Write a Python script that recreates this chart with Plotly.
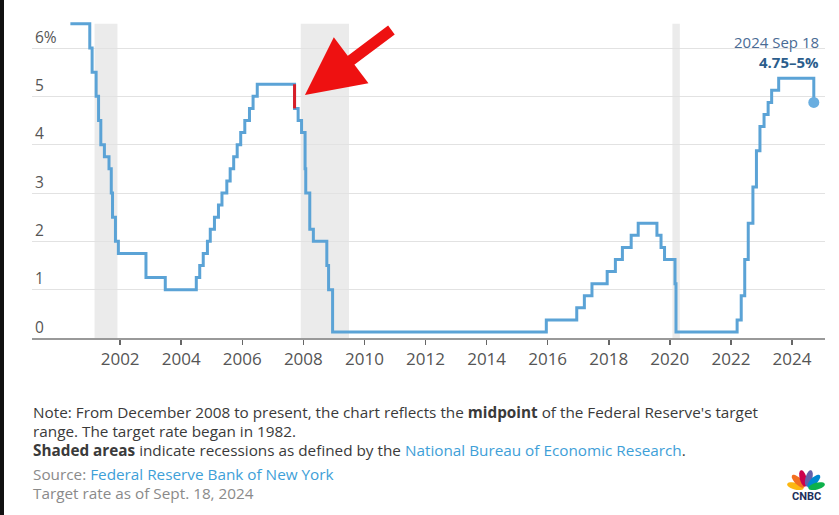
import math
import plotly.graph_objects as go

# ---- data ----
dates = ["2000-05-16", "2001-01-03", "2001-01-31", "2001-03-20", "2001-04-18", "2001-05-15",
         "2001-06-27", "2001-08-21", "2001-09-17", "2001-10-02", "2001-11-06", "2001-12-11",
         "2002-11-06", "2003-06-25", "2004-06-30", "2004-08-10", "2004-09-21", "2004-11-10",
         "2004-12-14", "2005-02-02", "2005-03-22", "2005-05-03", "2005-06-30", "2005-08-09",
         "2005-09-20", "2005-11-01", "2005-12-13", "2006-01-31", "2006-03-28", "2006-05-10",
         "2006-06-29", "2007-09-18", "2007-10-31", "2007-12-11", "2008-01-22", "2008-01-30",
         "2008-03-18", "2008-04-30", "2008-10-08", "2008-10-29", "2008-12-16", "2015-12-16",
         "2016-12-14", "2017-03-15", "2017-06-14", "2017-12-13", "2018-03-21", "2018-06-13",
         "2018-09-26", "2018-12-19", "2019-07-31", "2019-09-18", "2019-10-30", "2020-03-03",
         "2020-03-15", "2022-03-16", "2022-05-04", "2022-06-15", "2022-07-27", "2022-09-21",
         "2022-11-02", "2022-12-14", "2023-02-01", "2023-03-22", "2023-05-03", "2023-07-26",
         "2024-09-18"]
rates = [6.5, 6.0, 5.5, 5.0, 4.5, 4.0,
         3.75, 3.5, 3.0, 2.5, 2.0, 1.75,
         1.25, 1.0, 1.25, 1.5, 1.75, 2.0,
         2.25, 2.5, 2.75, 3.0, 3.25, 3.5,
         3.75, 4.0, 4.25, 4.5, 4.75, 5.0,
         5.25, 4.75, 4.5, 4.25, 3.5, 3.0,
         2.25, 2.0, 1.5, 1.0, 0.125, 0.375,
         0.625, 0.875, 1.125, 1.375, 1.625, 1.875,
         2.125, 2.375, 2.125, 1.875, 1.625, 1.125,
         0.125, 0.375, 0.875, 1.625, 2.375, 3.125,
         3.875, 4.375, 4.625, 4.875, 5.125, 5.375,
         4.875]
recession_starts = ["2001-03-01", "2007-12-01", "2020-02-01"]
recession_ends = ["2001-11-30", "2009-06-30", "2020-04-30"]
highlight_date = "2007-09-18"
y_ticks = [0, 1, 2, 3, 4, 5, 6]
y_tick_labels = ["0", "1", "2", "3", "4", "5", "6%"]
x_tick_years = list(range(2002, 2025, 2))

# ---- layout helpers ----
W, H = 839, 515
L, R, T, B = 32, 14, 19, 177
PW, PH = W - L - R, H - T - B


def px(x):
    return (x - L) / PW


def py(y):
    return (H - B - y) / PH


LINE = "#5ba3d6"
FONT = "Open Sans"

fig = go.Figure()

fig.add_trace(go.Scatter(x=dates, y=rates, mode="lines", line=dict(color=LINE, width=3, shape="hv"),
                         hoverinfo="skip", showlegend=False))

hi = dates.index(highlight_date)
fig.add_trace(go.Scatter(x=[dates[hi], dates[hi]], y=[rates[hi - 1], rates[hi]], mode="lines",
                         line=dict(color="#d81e28", width=3), hoverinfo="skip", showlegend=False))

fig.add_trace(go.Scatter(x=[dates[-1]], y=[rates[-1]], mode="markers",
                         marker=dict(color="#6aaee0", size=11), hoverinfo="skip", showlegend=False,
                         cliponaxis=False))

shapes = []
for s, e in zip(recession_starts, recession_ends):
    shapes.append(dict(type="rect", xref="x", yref="y", x0=s, x1=e, y0=0, y1=6.5,
                       fillcolor="#ebebeb", line=dict(width=0), layer="below"))

# left dark screen edge
shapes.append(dict(type="rect", xref="paper", yref="paper", x0=px(0), x1=px(4), y0=py(H), y1=py(0),
                   fillcolor="#111111", line=dict(width=0), layer="above"))

# CNBC peacock
feather_colors = ["#fcb711", "#f37021", "#cc004c", "#6460aa", "#0089d0", "#0db14b"]
cx, cy = 806, 489
for i, col in enumerate(feather_colors):
    ang = math.radians(165 - i * 30)
    ex, ey = cx + 11 * math.cos(ang), cy - 11 * math.sin(ang)
    pts = []
    for k in range(24):
        t = 2 * math.pi * k / 24
        a, b = 8.5 * math.cos(t), 3.4 * math.sin(t)
        xx = ex + a * math.cos(ang) - b * math.sin(ang)
        yy = ey - (a * math.sin(ang) + b * math.cos(ang))
        pts.append((px(xx), py(yy)))
    path = "M " + " L ".join(f"{p[0]:.5f},{p[1]:.5f}" for p in pts) + " Z"
    shapes.append(dict(type="path", xref="paper", yref="paper", path=path,
                       fillcolor=col, line=dict(width=0), layer="above"))

annotations = [
    dict(x=dates[-1], y=6.5, xref="x", yref="y", text="2024 Sep 18", showarrow=False,
         xanchor="right", yanchor="middle", xshift=7, yshift=-18,
         font=dict(family=FONT, size=15, color="#4a6b94")),
    dict(x=dates[-1], y=6.5, xref="x", yref="y", text="<b>4.75–5%</b>", showarrow=False,
         xanchor="right", yanchor="middle", xshift=7, yshift=-38,
         font=dict(family=FONT, size=15, color="#2b5d8c")),
    dict(x="2008-01-20", y=5.03, xref="x", yref="y", text="", showarrow=True,
         ax=88, ay=-66, arrowcolor="#ee1111", arrowwidth=11, arrowhead=2, arrowsize=1.05),
]

text_color = "#3a3a3a"
notes = [
    (412, "Note: From December 2008 to present, the chart reflects the <b>midpoint</b> of the Federal Reserve's target", text_color),
    (431, "range. The target rate began in 1982.", text_color),
    (450, "<b>Shaded areas</b> indicate recessions as defined by the "
          "<span style='color:#3ea0d8'>National Bureau of Economic Research</span>.", text_color),
    (474, "Source: <span style='color:#3ea0d8'>Federal Reserve Bank of New York</span>", "#8a8a8a"),
    (493, "Target rate as of Sept. 18, 2024", "#8a8a8a"),
]
for yy, txt, col in notes:
    annotations.append(dict(x=px(31), y=py(yy), xref="paper", yref="paper", text=txt, showarrow=False,
                            xanchor="left", yanchor="middle", font=dict(family=FONT, size=15.3, color=col)))

annotations.append(dict(x=px(806), y=py(496), xref="paper", yref="paper", text="<b>CNBC</b>",
                        showarrow=False, xanchor="center", yanchor="middle",
                        font=dict(family="Roboto", size=11, color="#1d2f5c")))

fig.update_layout(
    width=W, height=H,
    margin=dict(l=L, r=R, t=T, b=B),
    paper_bgcolor="white", plot_bgcolor="white",
    shapes=shapes, annotations=annotations,
    font=dict(family=FONT, color="#555555"),
    xaxis=dict(type="date", range=["1999-02-12", "2025-01-30"],
               tickvals=[f"{y}-01-01" for y in x_tick_years], ticktext=[str(y) for y in x_tick_years],
               ticks="outside", ticklen=5, tickcolor="#666666", tickwidth=1.5,
               showline=True, linecolor="#999999", linewidth=1.5, showgrid=False, zeroline=False,
               tickfont=dict(family=FONT, size=17, color="#555555"), fixedrange=True),
    yaxis=dict(range=[0, 6.6], tickvals=y_ticks, ticktext=y_tick_labels,
               ticklabelposition="inside top", ticks="", showgrid=True, gridcolor="#e2e2e2",
               gridwidth=1, zeroline=False, showline=False,
               tickfont=dict(family=FONT, size=15.5, color="#555555"), fixedrange=True),
)

fig.write_html("out.html", config={"displayModeBar": False, "staticPlot": True},
               post_script="document.body.style.margin='0';document.body.style.overflow='hidden';")
